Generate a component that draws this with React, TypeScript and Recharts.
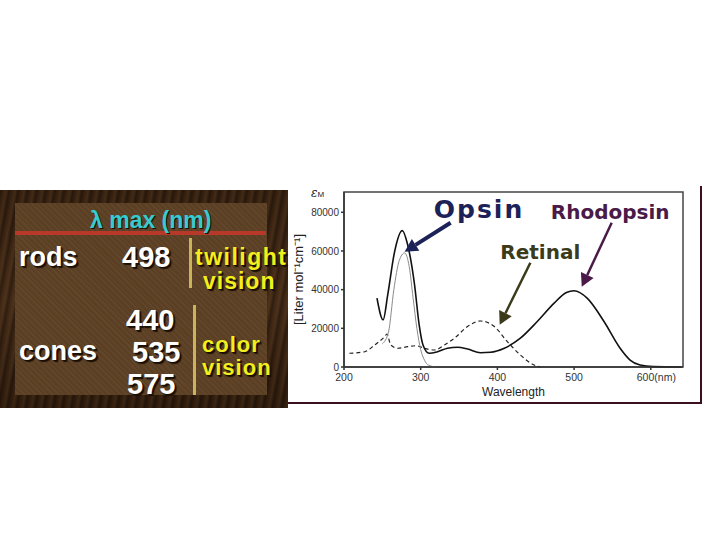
import React from "react";
import {
  LineChart,
  Line,
  XAxis,
  YAxis,
  ReferenceArea,
  ReferenceLine,
  ReferenceDot,
  Label,
} from "recharts";

// wavelength (nm) / extinction coefficient values
const rhodopsinWl = [243, 251, 257, 266, 276, 283, 292, 298, 303, 311, 322, 335, 348, 361, 378, 391, 409, 430, 452, 474, 490, 500, 517, 539, 560, 573, 586, 603, 640];
const rhodopsinEps = [35600, 24400, 37300, 59700, 70500, 63200, 42500, 21800, 11400, 7100, 7900, 9700, 10200, 9300, 7400, 7600, 9700, 14900, 23500, 33000, 38500, 39400, 35600, 23500, 9700, 3600, 1000, 170, 0];

const opsinWl = [250, 258, 265, 272, 279, 285, 290, 295, 300, 305, 310, 320];
const opsinEps = [12000, 18000, 40000, 55000, 59000, 52000, 36000, 20000, 9000, 3500, 1000, 0];

const retinalWl = [207, 227, 240, 253, 256, 261, 270, 283, 294, 305, 318, 331, 344, 361, 378, 396, 413, 430, 448, 456];
const retinalEps = [7100, 7900, 11400, 15700, 17000, 11400, 9700, 10500, 11000, 9700, 8800, 11400, 14900, 20900, 23800, 20900, 13100, 6200, 1000, 0];

const xTicks = [200, 300, 400, 500, 600];
const yTicks = [0, 20000, 40000, 60000, 80000];

const toRows = (wl: number[], eps: number[]) => wl.map((x, i) => ({ x, v: eps[i] }));

const rhodopsin = toRows(rhodopsinWl, rhodopsinEps);
const opsin = toRows(opsinWl, opsinEps);
const retinal = toRows(retinalWl, retinalEps);

// annotation labels + arrows (data coords)
const notes = [
  { text: "Opsin", x: 376, y: 81300, color: "#1c2258", size: 25, from: { x: 339, y: 74600 }, to: { x: 279, y: 59600 }, w: 4 },
  { text: "Rhodopsin", x: 547, y: 80300, color: "#4a1a48", size: 20, from: { x: 549, y: 74600 }, to: { x: 510, y: 41500 }, w: 2.5 },
  { text: "Retinal", x: 456, y: 59600, color: "#3b3a1a", size: 20, from: { x: 443, y: 53900 }, to: { x: 403, y: 21800 }, w: 2.5 },
];

const Arrow = (props: any) => {
  const { x1, y1, x2, y2, stroke, strokeWidth } = props;
  const a = Math.atan2(y2 - y1, x2 - x1);
  const len = 13;
  const half = 7;
  const bx = x2 - len * Math.cos(a);
  const by = y2 - len * Math.sin(a);
  const px = -Math.sin(a) * half;
  const py = Math.cos(a) * half;
  return (
    <g>
      <line x1={x1} y1={y1} x2={bx} y2={by} stroke={stroke} strokeWidth={strokeWidth} />
      <polygon points={`${x2},${y2} ${bx + px},${by + py} ${bx - px},${by - py}`} fill={stroke} />
    </g>
  );
};

const XTick = (props: any) => {
  const { x, y, payload } = props;
  const last = payload.value === 600;
  return (
    <text x={last ? x - 14 : x} y={y + 9} textAnchor={last ? "start" : "middle"} fontSize={10.5} fill="#333" fontFamily="Liberation Sans, sans-serif">
      {last ? "600(nm)" : payload.value}
    </text>
  );
};

const wood =
  "repeating-linear-gradient(100deg, rgba(0,0,0,0.3) 0px, rgba(0,0,0,0) 3px, rgba(255,200,140,0.06) 6px, rgba(0,0,0,0.25) 9px), linear-gradient(180deg, #35200f, #432a16 50%, #2e1b0c)";
const panel =
  "repeating-linear-gradient(45deg, rgba(0,0,0,0.06) 0px, rgba(0,0,0,0) 2px, rgba(255,255,255,0.04) 4px), #5d4125";

const txt = (x: number, y: number, s: string, size: number, color: string, extra: any = {}) => (
  <div
    style={{
      position: "absolute",
      left: x,
      top: y,
      fontSize: size,
      color,
      fontWeight: 700,
      fontFamily: "Liberation Sans, Arial, sans-serif",
      lineHeight: 0.8,
      whiteSpace: "nowrap",
      textShadow: "1px 1px 0 #1a0f05, 2px 2px 1px #1a0f05",
      ...extra,
    }}
  >
    {s}
  </div>
);

export default function App() {
  return (
    <div style={{ position: "absolute", left: 0, top: 0, width: 720, height: 540, background: "#fff", overflow: "hidden" }}>
      {/* left table panel */}
      <div style={{ position: "absolute", left: 0, top: 190, width: 288, height: 218, background: wood }} />
      <div style={{ position: "absolute", left: 15, top: 203, width: 252, height: 192, background: panel }} />
      <div style={{ position: "absolute", left: 15, top: 231, width: 251, height: 4, background: "#b8382a" }} />
      {txt(90, 211, "λ max (nm)", 23, "#36cbd2", { textShadow: "1px 1px 0 #1a0f05" })}
      {txt(19, 247, "rods", 27, "#fff")}
      {txt(122, 246, "498", 29, "#fff")}
      <div style={{ position: "absolute", left: 189, top: 238, width: 3, height: 50, background: "#c9b45a" }} />
      {txt(195, 248, "twilight", 23, "#f2ef1c", { letterSpacing: 1.5 })}
      {txt(203, 272, "vision", 23, "#f2ef1c", { letterSpacing: 1 })}
      {txt(126, 309, "440", 29, "#fff")}
      {txt(132, 341, "535", 29, "#fff")}
      {txt(127, 373, "575", 29, "#fff")}
      {txt(19, 341, "cones", 27, "#fff")}
      <div style={{ position: "absolute", left: 193, top: 305, width: 3, height: 90, background: "#c9b45a" }} />
      {txt(202, 336, "color", 22, "#f2ef1c", { letterSpacing: 1 })}
      {txt(202, 359, "vision", 22, "#f2ef1c", { letterSpacing: 1 })}

      {/* spectrum panel */}
      <div style={{ position: "absolute", left: 288, top: 402, width: 414, height: 2, background: "#3a1020" }} />
      <div style={{ position: "absolute", left: 700, top: 186, width: 2, height: 218, background: "#3a1020" }} />
      <div style={{ position: "absolute", left: 311, top: 186, fontSize: 12, fontStyle: "italic", fontFamily: "DejaVu Serif, serif", color: "#222" }}>
        ε<span style={{ fontSize: 8, fontStyle: "normal", fontFamily: "Liberation Sans, sans-serif" }}>M</span>
      </div>
      <div style={{ position: "absolute", left: 288, top: 185 }}>
        <LineChart width={410} height={220} margin={{ top: 7, right: 15, bottom: 0, left: 12 }}>
          <XAxis
            type="number"
            dataKey="x"
            domain={[200, 642]}
            ticks={xTicks}
            tick={<XTick />}
            tickSize={3}
            height={38}
            stroke="#333"
            strokeWidth={1.5}
          >
            <Label value="Wavelength" position="insideBottom" offset={9} fontSize={12} fill="#222" fontFamily="Liberation Sans, sans-serif" />
          </XAxis>
          <YAxis
            type="number"
            dataKey="v"
            domain={[0, 90500]}
            ticks={yTicks}
            tickSize={3}
            width={44}
            stroke="#333"
            strokeWidth={1.5}
            tick={{ fontSize: 10, fill: "#333", fontFamily: "Liberation Sans, sans-serif" }}
          >
            <Label value="[Liter mol⁻¹cm⁻¹]" angle={-90} position="insideLeft" offset={-2} fontSize={13} fill="#222" fontFamily="Liberation Sans, sans-serif" style={{ textAnchor: "middle", fontSize: 13 }} />
          </YAxis>
          <ReferenceArea x1={200} x2={642} y1={0} y2={90500} fill="none" stroke="#444" strokeWidth={1.5} />
          <Line data={retinal} dataKey="v" type="monotone" stroke="#222" strokeWidth={1.2} strokeDasharray="4 3" dot={false} isAnimationActive={false} />
          <Line data={opsin} dataKey="v" type="monotone" stroke="#8a8a8a" strokeWidth={1} dot={false} isAnimationActive={false} />
          <Line data={rhodopsin} dataKey="v" type="monotone" stroke="#111" strokeWidth={1.6} dot={false} isAnimationActive={false} />
          {notes.map((n) => (
            <ReferenceLine
              key={n.text + "-arrow"}
              segment={[n.from, n.to]}
              stroke={n.color}
              strokeWidth={n.w}
              ifOverflow="visible"
              shape={<Arrow />}
            />
          ))}
          {notes.map((n) => (
            <ReferenceDot
              key={n.text}
              x={n.x}
              y={n.y}
              r={0}
              ifOverflow="visible"
              shape={(p: any) => (
                <text x={p.cx} y={p.cy} textAnchor="middle" dominantBaseline="central" fontSize={n.size} fontWeight={700} fill={n.color} fontFamily="DejaVu Sans, sans-serif" letterSpacing={n.text === "Opsin" ? 2 : 0}>
                  {n.text}
                </text>
              )}
            />
          ))}
        </LineChart>
      </div>
    </div>
  );
}
